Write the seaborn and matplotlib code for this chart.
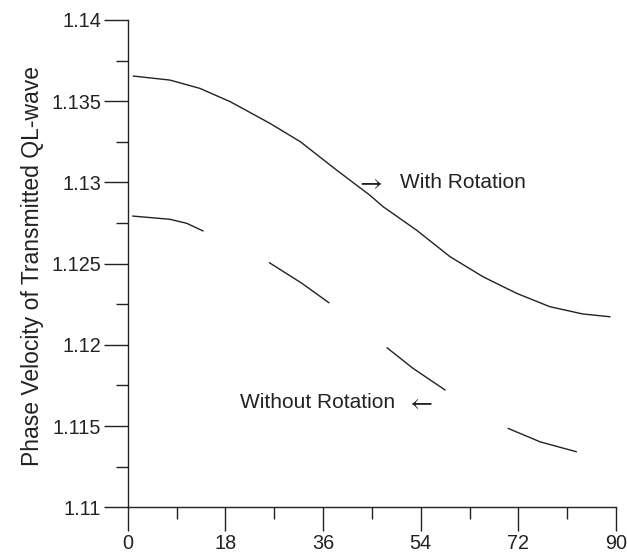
import numpy as np
import pandas as pd
import matplotlib
matplotlib.use("Agg")
import matplotlib.pyplot as plt
import seaborn as sns
from matplotlib.ticker import MultipleLocator

# angle (deg) vs phase velocity
with_rot_x = [1, 7.8, 13.3, 18.9, 26.2, 31.8, 38.5, 44.6, 47.1, 53.2, 59.4, 65.5, 71.7, 77.8, 83.9, 88.9]
with_rot_y = [1.13655, 1.1363, 1.13579, 1.13497, 1.13364, 1.13251, 1.13076, 1.12922, 1.1285,
              1.12707, 1.12543, 1.12419, 1.12317, 1.12235, 1.1219, 1.12173]

# without rotation is drawn as long dashes, one list per dash
without_rot_x = [[0.9, 7.8, 10.9, 13.9], [26.1, 32.1, 37.1], [47.8, 52.6, 58.5], [70.1, 76.0, 82.7]]
without_rot_y = [[1.12793, 1.12773, 1.12748, 1.12701], [1.12506, 1.12379, 1.12259],
                 [1.11982, 1.11855, 1.11722], [1.11486, 1.11403, 1.11342]]

xticks = [0, 18, 36, 54, 72, 90]
yticks = [1.11, 1.115, 1.12, 1.125, 1.13, 1.135, 1.14]
ytick_labels = ["1.11", "1.115", "1.12", "1.125", "1.13", "1.135", "1.14"]

rows = []
for x, y in zip(with_rot_x, with_rot_y):
    rows.append(("with", 0, x, y))
for i, (xs, ys) in enumerate(zip(without_rot_x, without_rot_y)):
    for x, y in zip(xs, ys):
        rows.append(("without", i + 1, x, y))
df = pd.DataFrame(rows, columns=["case", "seg", "angle", "velocity"])

sns.set_style("ticks")
plt.rcParams["font.family"] = ["Liberation Sans", "DejaVu Sans"]
ink = "#222222"

fig = plt.figure(figsize=(6.27, 5.54), dpi=100)
ax = fig.add_axes([0.2037, 0.0843, 0.7788, 0.8796])

sns.lineplot(data=df, x="angle", y="velocity", units="seg", estimator=None,
             color=ink, linewidth=1.0, ax=ax, legend=False)

ax.set_xlim(0, 90)
ax.set_ylim(1.11, 1.14)
ax.set_xticks(xticks)
ax.set_yticks(yticks)
ax.set_yticklabels(ytick_labels)
ax.xaxis.set_minor_locator(MultipleLocator(9))
ax.yaxis.set_minor_locator(MultipleLocator(0.0025))
ax.tick_params(which="major", length=17.3, width=1.0, color=ink, labelsize=14.3,
               labelcolor=ink, pad=2, direction="out")
ax.tick_params(which="minor", length=8.6, width=1.0, color=ink, direction="out")
for s in ["top", "right"]:
    ax.spines[s].set_visible(False)
for s in ["left", "bottom"]:
    ax.spines[s].set_linewidth(1.0)
    ax.spines[s].set_color(ink)

ax.set_xlabel("")
ax.set_ylabel("Phase Velocity of Transmitted QL-wave", fontsize=16.5, color=ink)
ax.yaxis.set_label_coords(-0.172, 0.495)

ax.text(42.0, 1.1300, r"$\rightarrow$", fontsize=18, color=ink, va="center", ha="left",
        math_fontfamily="stix")
ax.text(50.2, 1.13002, "With Rotation", fontsize=15, color=ink, va="center", ha="left")
ax.text(20.7, 1.11648, "Without Rotation", fontsize=15, color=ink, va="center", ha="left")
ax.text(51.3, 1.11648, r"$\leftarrow$", fontsize=18, color=ink, va="center", ha="left",
        math_fontfamily="stix")

fig.savefig("out.png", dpi=100)
